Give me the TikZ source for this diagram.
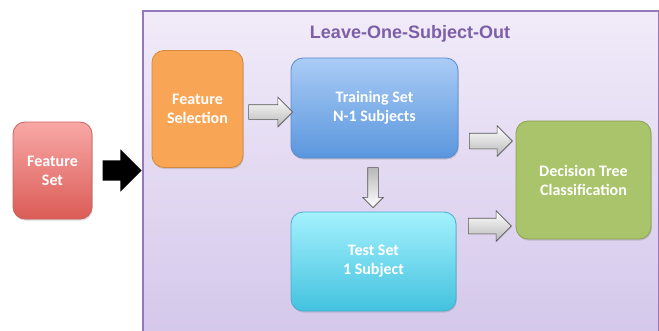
\documentclass[tikz,border=0pt]{standalone}
\usepackage{fontspec}
\setmainfont{Carlito}
\newfontfamily\titlefont{Liberation Sans}
\usetikzlibrary{shapes.arrows,shadows,calc}
\definecolor{frameborder}{HTML}{9478BA}
\definecolor{frametop}{HTML}{F1EBF9}
\definecolor{framebot}{HTML}{D3C6EA}
\definecolor{titlecol}{HTML}{7D5FA8}
\definecolor{redtop}{HTML}{F8A8A6}
\definecolor{redbot}{HTML}{DB5C56}
\definecolor{redborder}{HTML}{C9625E}
\definecolor{orangefill}{HTML}{F8A656}
\definecolor{orangeborder}{HTML}{D4883C}
\definecolor{bluetop}{HTML}{AACCF6}
\definecolor{bluebot}{HTML}{5A96DD}
\definecolor{blueborder}{HTML}{5A8BCF}
\definecolor{cyantop}{HTML}{A4F1FD}
\definecolor{cyanbot}{HTML}{43C2DF}
\definecolor{cyanborder}{HTML}{46AFCC}
\definecolor{greenfill}{HTML}{A9C46B}
\definecolor{greenborder}{HTML}{8AA350}
\definecolor{arrowgray}{HTML}{B8B8B8}
\definecolor{arrowborder}{HTML}{555555}
\tikzset{
  box/.style={rectangle, rounded corners=12pt, line width=0.8pt, align=center,
    text=white, font=\fontsize{16}{19}\selectfont\bfseries,
    drop shadow={opacity=0.3, shadow xshift=0.8pt, shadow yshift=-1.6pt}},
  grayarrow/.style={shape=single arrow, draw=arrowborder, line width=0.6pt,
    inner xsep=0pt, text height=0pt, text depth=0pt,
    drop shadow={opacity=0.2, shadow xshift=0.6pt, shadow yshift=-0.8pt}},
}
\begin{document}
\begin{tikzpicture}[x=1pt,y=-1pt]
\useasboundingbox (0,0) rectangle (659,330);
% frame
\begin{scope}
\clip (0,0) rectangle (659,330);
\node[rectangle, draw=frameborder, line width=2.6pt, top color=frametop, bottom color=framebot,
  minimum width=516pt, minimum height=340pt, anchor=north west, inner sep=0pt] (frame) at (141.5,9.5) {};
\end{scope}
\node[font=\titlefont\fontsize{18}{21}\selectfont\bfseries, text=titlecol] (title) at (410,34) {Leave-One-Subject-Out};
% boxes
\node[box, draw=redborder, top color=redtop, bottom color=redbot, minimum width=79pt, minimum height=97pt] (fset) at (52.5,170.5) {Feature\\Set};
\node[box, draw=orangeborder, fill=orangefill, minimum width=91pt, minimum height=117pt] (fsel) at (197.5,109) {Feature\\Selection};
\node[box, draw=blueborder, top color=bluetop, bottom color=bluebot, minimum width=167pt, minimum height=100pt] (train) at (374.5,108) {Training Set\\N-1 Subjects};
\node[box, draw=cyanborder, top color=cyantop, bottom color=cyanbot, minimum width=165pt, minimum height=99pt] (test) at (373.5,261.5) {Test Set\\1 Subject};
\node[box, draw=greenborder, fill=greenfill, minimum width=135pt, minimum height=118pt] (dt) at (583.5,180) {Decision Tree\\Classification};
% black arrow
\node[shape=single arrow, fill=black, inner xsep=0pt, inner ysep=10pt, text height=0pt, text depth=0pt,
  single arrow head extend=11pt, minimum height=39pt] (barrow) at ($(fset.east)!0.5!(frame.west |- fset.east)$) {};
% gray arrows
\node[grayarrow, top color=white, bottom color=arrowgray, inner ysep=7pt, single arrow head extend=7.5pt, minimum height=44pt] (a1) at ($(fsel.east |- 0,112)!0.5!(train.west |- 0,112)$) {};
\node[grayarrow, top color=white, bottom color=arrowgray, inner ysep=7.5pt, single arrow head extend=7.5pt, minimum height=43pt] (a2) at ($(train.east |- 0,141)!0.5!(dt.west |- 0,141)$) {};
\node[grayarrow, top color=white, bottom color=arrowgray, inner ysep=7.5pt, single arrow head extend=7.5pt, minimum height=43pt] (a3) at ($(test.east |- 0,226)!0.5!(dt.west |- 0,226)$) {};
\node[grayarrow, top color=arrowgray, bottom color=white, inner ysep=5pt, single arrow head extend=5pt, minimum height=40pt, rotate=-90] (a4) at ($(train.south -| 373,0)!0.5!(test.north -| 373,0)$) {};
\end{tikzpicture}
\end{document}
